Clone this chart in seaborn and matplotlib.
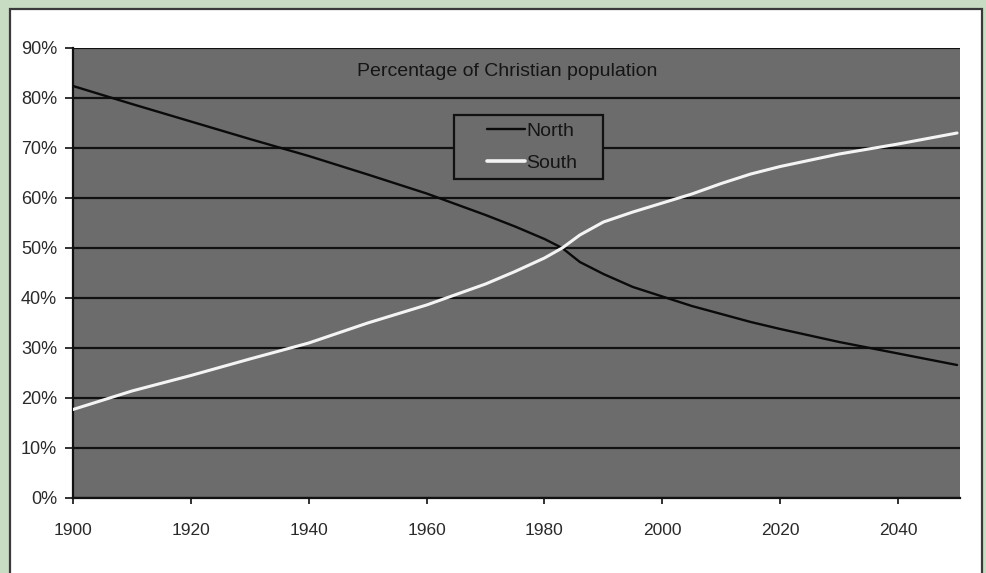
import matplotlib
matplotlib.use("Agg")
import matplotlib.pyplot as plt
from matplotlib.patches import Rectangle
from matplotlib.ticker import FuncFormatter, MultipleLocator
import seaborn as sns
import pandas as pd

# ---- data ----
years = [1900, 1910, 1920, 1930, 1940, 1950, 1960, 1970, 1975, 1980, 1983,
         1986, 1990, 1995, 2000, 2005, 2010, 2015, 2020, 2030, 2040, 2050]
north = [82.4, 78.8, 75.3, 71.8, 68.4, 64.7, 60.9, 56.6, 54.3, 51.8, 50.0,
         47.2, 44.8, 42.2, 40.3, 38.4, 36.8, 35.2, 33.8, 31.2, 28.9, 26.6]
south = [17.7, 21.4, 24.5, 27.8, 31.0, 35.0, 38.6, 42.8, 45.3, 48.0, 50.0,
         52.6, 55.2, 57.2, 59.0, 60.8, 62.9, 64.8, 66.3, 68.8, 70.8, 73.0]
series_names = ["North", "South"]
title_text = "Percentage of Christian population"
x_ticks = [1900, 1920, 1940, 1960, 1980, 2000, 2020, 2040]

df = pd.DataFrame({
    "Year": years * 2,
    "Share": [v / 100 for v in north] + [v / 100 for v in south],
    "Region": [series_names[0]] * len(years) + [series_names[1]] * len(years),
})

sns.set_theme(style="white")
plt.rcParams["font.family"] = ["Liberation Sans", "DejaVu Sans"]

W, H = 987, 573
fig = plt.figure(figsize=(W / 100, H / 100), dpi=100, facecolor="#c8dbc3")

# white inner panel with dark border
panel = Rectangle((10 / W, -0.02), 972 / W, 1 - 9 / H + 0.02,
                  transform=fig.transFigure, facecolor="white",
                  edgecolor="#3a3a3a", linewidth=1.6, zorder=-10)
fig.patches.append(panel)

L, R, T, B = 73, 960, 48, 498
ax = fig.add_axes([L / W, 1 - B / H, (R - L) / W, (B - T) / H])
ax.set_facecolor("#6c6c6c")

sns.lineplot(data=df, x="Year", y="Share", hue="Region",
             palette={"North": "#0a0a0a", "South": "#f4f4f4"},
             linewidth=2.0, ax=ax, legend=False, zorder=3)
for line, lw in zip(ax.lines, [1.7, 2.2]):
    line.set_linewidth(lw)

ax.set_xlim(1900, 2050.5)
ax.set_ylim(0, 0.9)
ax.yaxis.set_major_locator(MultipleLocator(0.1))
ax.yaxis.set_major_formatter(FuncFormatter(lambda v, p: f"{v * 100:.0f}%"))
ax.set_xticks(x_ticks)
ax.set_xlabel("")
ax.set_ylabel("")

ax.grid(axis="y", color="#111111", linewidth=1.6, zorder=1)
ax.grid(axis="x", visible=False)
ax.set_axisbelow(True)

for s in ["top", "right"]:
    ax.spines[s].set_visible(False)
for s in ["left", "bottom"]:
    ax.spines[s].set_visible(True)
    ax.spines[s].set_color("#111111")
    ax.spines[s].set_linewidth(1.6)

ax.tick_params(axis="y", direction="out", length=6, width=1.3, color="#222222",
               pad=5.5, labelsize=13, labelcolor="#2a2a2a", left=True)
ax.tick_params(axis="x", direction="out", length=4, width=1.3, color="#222222",
               pad=14, labelsize=12.5, labelcolor="#2a2a2a", bottom=True)

ax.text(0.489, 0.947, title_text, transform=ax.transAxes, ha="center",
        va="center", fontsize=14, color="#151515", zorder=5)

# legend
x0 = (454 - L) / (R - L)
x1 = (603 - L) / (R - L)
y0 = (B - 179) / (B - T)
y1 = (B - 115) / (B - T)
ax.add_patch(Rectangle((x0, y0), x1 - x0, y1 - y0, transform=ax.transAxes,
                       facecolor="#6c6c6c", edgecolor="#111111",
                       linewidth=1.6, zorder=4))
handles = [plt.Line2D([], [], color="#0a0a0a", lw=1.7),
           plt.Line2D([], [], color="#f4f4f4", lw=2.6)]
leg = ax.legend(handles, series_names, loc="center",
                bbox_to_anchor=((532 - L) / (R - L), (B - 147) / (B - T)),
                frameon=False, fontsize=14, handlelength=1.95,
                handletextpad=0.08, labelspacing=0.75, borderpad=0.2)
leg.set_zorder(6)
for t in leg.get_texts():
    t.set_color("#151515")

fig.savefig("out.png", dpi=100, facecolor=fig.get_facecolor())
